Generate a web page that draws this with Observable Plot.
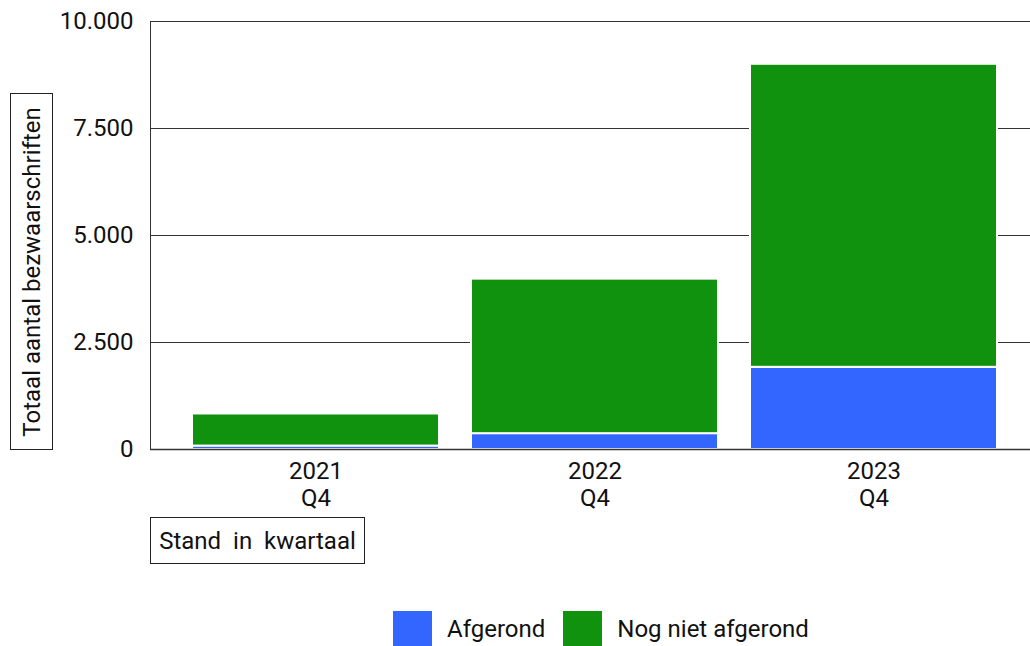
<!DOCTYPE html>
<html>
<head>
<meta charset="utf-8">
<script src="https://cdn.jsdelivr.net/npm/d3@7"></script>
<script src="https://cdn.jsdelivr.net/npm/@observablehq/plot@0.6"></script>
<style>
  html, body { margin: 0; padding: 0; background: #fff; }
  body { font-family: Roboto, "Noto Sans", sans-serif; }
  #wrap { position: relative; width: 1030px; height: 646px; overflow: hidden; }
  #chart { position: absolute; left: 0; top: 0; }
  .box { position: absolute; border: 1px solid #222; background: #fff; color: #111; font-size: 24px; box-sizing: border-box; display: flex; align-items: center; justify-content: center; white-space: nowrap; }
  #ytitle { left: 10px; top: 93px; width: 43px; height: 357px; }
  #ytitle span { display: inline-block; transform: rotate(-90deg); }
  #xtitle { left: 150px; top: 517px; width: 215px; height: 47px; }
  #legend { position: absolute; left: 393px; top: 611px; display: flex; align-items: center; font-size: 24px; color: #111; }
  .sw { width: 39px; height: 36px; display: inline-block; }
  .item { display: flex; align-items: center; }
  .item .lab { margin-left: 15px; margin-right: 18px; }
</style>
</head>
<body>
<div id="wrap">
  <div id="chart"></div>
  <div id="ytitle" class="box"><span>Totaal aantal bezwaarschriften</span></div>
  <div id="xtitle" class="box">Stand&nbsp; in&nbsp; kwartaal</div>
  <div id="legend"></div>
</div>
<script>
// Data
const categories = ["2021 Q4", "2022 Q4", "2023 Q4"];
const afgerond = [80, 370, 1920];
const nogNietAfgerond = [750, 3610, 7080];
const seriesNames = ["Afgerond", "Nog niet afgerond"];
const seriesColors = ["#3366ff", "#11920f"];
const yTicks = [0, 2500, 5000, 7500, 10000];

const rows = [];
categories.forEach((c, i) => {
  rows.push({cat: c, serie: seriesNames[0], value: afgerond[i]});
  rows.push({cat: c, serie: seriesNames[1], value: nogNietAfgerond[i]});
});

const nl = d3.formatLocale({decimal: ",", thousands: ".", grouping: [3], currency: ["€", ""]});
const fmt = nl.format(",");

const plot = Plot.plot({
  width: 1030,
  height: 530,
  marginLeft: 150,
  marginRight: 0,
  marginTop: 21,
  marginBottom: 81,
  style: {fontFamily: "Roboto, sans-serif", fontSize: "24px", color: "#111", background: "transparent"},
  x: {domain: categories, range: [160.5, 1029.5], padding: 0.113, label: null},
  y: {domain: [0, 10000], label: null},
  color: {domain: seriesNames, range: seriesColors},
  marks: [
    Plot.ruleY(yTicks, {stroke: "#333", strokeWidth: 1}),
    Plot.frame({anchor: "left", stroke: "#333"}),
    Plot.barY(rows, Plot.stackY({order: seriesNames}, {x: "cat", y: "value", fill: "serie", stroke: "white", strokeWidth: 2})),
    Plot.ruleY([0], {stroke: "#333", strokeWidth: 1.5}),
    Plot.axisY({ticks: yTicks, tickFormat: fmt, tickSize: 0, tickPadding: 17, fontSize: 24, label: null}),
    Plot.axisX({tickSize: 0, tickPadding: 11, fontSize: 24, lineHeight: 1.1, tickFormat: d => d.replace(" ", "\n"), label: null})
  ]
});
document.getElementById("chart").appendChild(plot);

const legend = document.getElementById("legend");
seriesNames.forEach((s, i) => {
  const it = document.createElement("div");
  it.className = "item";
  it.innerHTML = `<span class="sw" style="background:${seriesColors[i]}"></span><span class="lab">${s}</span>`;
  legend.appendChild(it);
});
</script>
</body>
</html>
